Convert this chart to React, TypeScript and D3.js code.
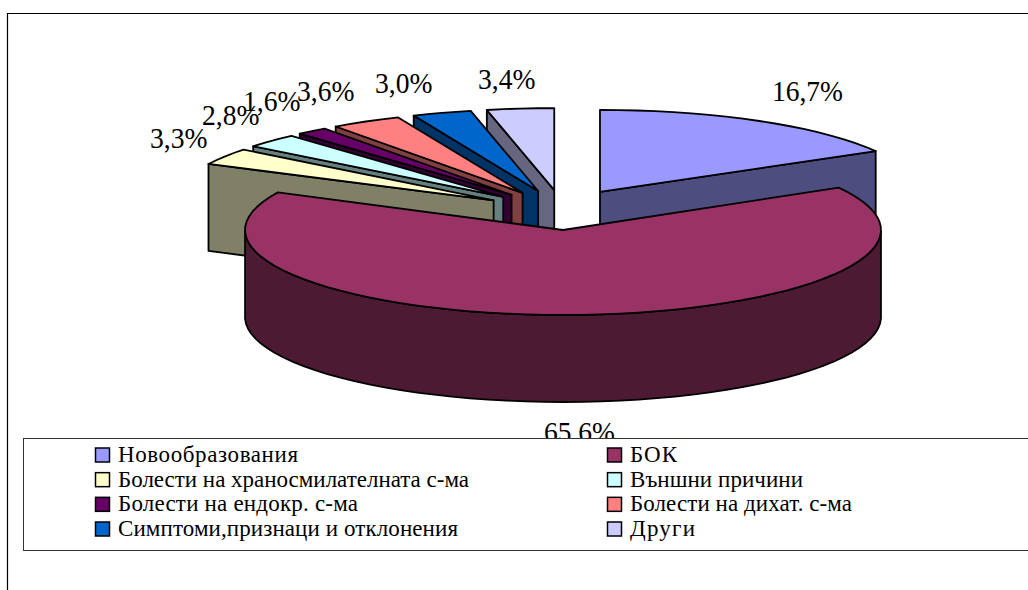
import React from 'react';
import * as d3 from 'd3';

const categories = ['Новообразования', 'БОК', 'Болести на храносмилателната с-ма', 'Външни причини', 'Болести на ендокр. с-ма', 'Болести на дихат. с-ма', 'Симптоми,признаци и отклонения', 'Други'];
const shares = [16.7, 65.6, 3.3, 2.8, 1.6, 3.6, 3.0, 3.4];
const shareLabels = ['16,7%', '65,6%', '3,3%', '2,8%', '1,6%', '3,6%', '3,0%', '3,4%'];
const topColors = ['#9999FF', '#993366', '#FFFFCC', '#CCFFFF', '#660066', '#FF8080', '#0066CC', '#CCCCFF'];
const wallColors = ['#4D4D80', '#4D1A33', '#808066', '#668080', '#330033', '#804040', '#003366', '#666680'];

// where the percent labels sit (left x, baseline y), same order as the categories
const labelSpots = [[772, 101], [544, 442], [150, 148], [202, 125], [243, 111], [297, 101], [375, 93], [478, 89]];
// the legend text is set a bit wider than the font's own spacing
const legendWidths = [180, 47, 351, 173, 240, 222, 340, 65];

const cx = 563, cy = 230, rx = 318, ry = 85, ryOut = 82, depth = 87;
const explodeX = 82, explodeY = 22, lift = 18;
const font = '"Liberation Serif", serif';

const pieAngles = d3.pie<number>().sort(null).value((d) => d)(shares);
const line = d3.line();

function slicePaths(i: number) {
  const a = pieAngles[i];
  const mid = (a.startAngle + a.endAngle) / 2;
  // the big slice stays in the centre, all the others are pulled out
  const ox = i === 1 ? cx : cx + explodeX * Math.sin(mid) * (i === 0 ? 0.9 : 1);
  const oy = i === 1 ? cy : cy - lift - explodeY * Math.cos(mid) - (i === 0 ? 1 : 0);
  const r = i === 1 ? ry : ryOut;
  const at = (t: number): [number, number] => [ox + rx * Math.sin(t), oy - r * Math.cos(t)];
  const steps = d3.range(0, Math.ceil((a.endAngle - a.startAngle) / 0.06) + 1);
  const scale = d3.scaleLinear().domain([0, steps[steps.length - 1]]).range([a.startAngle, a.endAngle]);
  const rim = steps.map((s) => at(scale(s)));
  const top = line([[ox, oy], ...rim, [ox, oy]]) + 'Z';
  const down = (p: [number, number]): [number, number] => [p[0], p[1] + depth];
  let walls: string[] = [];
  if (i === 0) {
    // end edge faces the viewer
    const e = rim[rim.length - 1];
    walls = [line([[ox, oy], e, down(e), [ox, oy + depth]]) + 'Z'];
  } else if (i === 1) {
    // front of the rim, only the lower half of the ellipse
    const front = rim.filter((p) => p[1] >= oy - 2);
    walls = [line([...front, ...front.slice().reverse().map(down)]) + 'Z'];
  } else {
    const s = rim[0];
    walls = [line([[ox, oy], s, down(s), [ox, oy + depth]]) + 'Z'];
  }
  return { top, walls };
}

// back to front: first slice, then from the last round to the big one
const drawOrder = [0, 7, 6, 5, 4, 3, 2, 1];
const legendRow = d3.scalePoint<number>().domain([0, 1, 2, 3]).range([462, 536]);

export default function App() {
  return (
    <svg width={1028} height={590} style={{ position: 'absolute', left: 0, top: 0, background: '#fff' }}>
      <path d="M7.5,590V13.5H1028" fill="none" stroke="#000" strokeWidth={1.2} />
      {drawOrder.map((i) => {
        const p = slicePaths(i);
        return (
          <g key={i} stroke="#000" strokeWidth={1.8} strokeLinejoin="round">
            {p.walls.map((d, k) => <path key={k} d={d} fill={wallColors[i]} />)}
            <path d={p.top} fill={topColors[i]} />
          </g>
        );
      })}
      {shareLabels.map((t, i) => (
        <text key={t} x={labelSpots[i][0]} y={labelSpots[i][1]} fontFamily={font} fontSize={29.5}
          textLength={t.length === 5 ? 71 : 57.5} lengthAdjust="spacingAndGlyphs" fill="#000">{t}</text>
      ))}
      <rect x={23.5} y={438.5} width={1010} height={112} fill="#fff" stroke="#333" strokeWidth={1} />
      {categories.map((c, i) => {
        const row = Math.floor(i / 2);
        const x = i % 2 === 0 ? 95 : 607;
        const y = legendRow(row) as number;
        return (
          <g key={c}>
            <rect x={x + 0.5} y={y - 14} width={14} height={14} fill={topColors[i]} stroke="#000" strokeWidth={1.5} />
            <text x={x + 23} y={y} fontFamily={font} fontSize={23} textLength={legendWidths[i]} fill="#000">{c}</text>
          </g>
        );
      })}
    </svg>
  );
}
